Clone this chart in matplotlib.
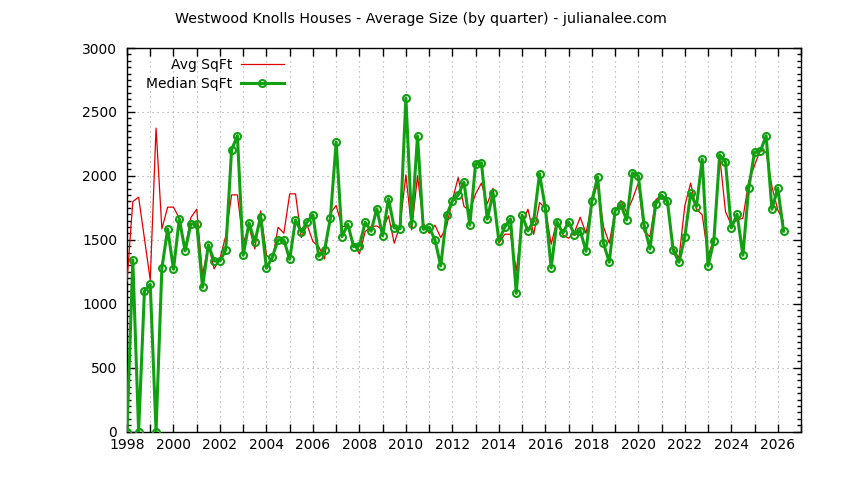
import numpy as np
import matplotlib
matplotlib.use("Agg")
import matplotlib.pyplot as plt
from matplotlib.ticker import MultipleLocator, FuncFormatter

start_year = 1998
avg_sqft = [
    1175, 1799, 1833, 1510,   # 1998
    1185, 2373, 1585, 1755,   # 1999
    1755, 1668, 1433, 1674,   # 2000
    1739, 1225, 1460, 1272,   # 2001
    1355, 1530, 1851, 1851,   # 2002
    1473, 1603, 1428, 1726,   # 2003
    1381, 1334, 1598, 1551,   # 2004
    1859, 1859, 1517, 1616,   # 2005
    1486, 1446, 1350, 1708,   # 2006
    1768, 1603, 1608, 1467,   # 2007
    1389, 1564, 1603, 1608,   # 2008
    1577, 1687, 1473, 1616,   # 2009
    2008, 1577, 2000, 1629,   # 2010
    1551, 1614, 1517, 1603,   # 2011
    1810, 1987, 1760, 1728,   # 2012
    1859, 1943, 1781, 1903,   # 2013
    1473, 1543, 1543, 1258,   # 2014
    1629, 1739, 1543, 1791,   # 2015
    1747, 1465, 1648, 1538,   # 2016
    1512, 1556, 1676, 1551,   # 2017
    1786, 1943, 1603, 1473,   # 2018
    1721, 1807, 1713, 1817,   # 2019
    1943, 1564, 1525, 1812,   # 2020
    1851, 1786, 1440, 1355,   # 2021
    1765, 1943, 1739, 1695,   # 2022
    1368, 1512, 2157, 1721,   # 2023
    1616, 1655, 1668, 1956,   # 2024
    2081, 2204, 2183, 1916,   # 2025
    1734, 1642,               # 2026
]
median_sqft = [
    0, 1342, 0, 1099,         # 1998
    1151, 0, 1277, 1585,      # 1999
    1269, 1663, 1413, 1624,   # 2000
    1624, 1128, 1460, 1334,   # 2001
    1334, 1420, 2204, 2313,   # 2002
    1379, 1632, 1483, 1679,   # 2003
    1277, 1363, 1499, 1499,   # 2004
    1347, 1655, 1561, 1640,   # 2005
    1695, 1371, 1420, 1668,   # 2006
    2264, 1525, 1621, 1446,   # 2007
    1454, 1637, 1567, 1742,   # 2008
    1530, 1820, 1593, 1585,   # 2009
    2608, 1621, 2311, 1582,   # 2010
    1598, 1499, 1295, 1692,   # 2011
    1804, 1851, 1950, 1614,   # 2012
    2094, 2102, 1661, 1864,   # 2013
    1491, 1598, 1663, 1081,   # 2014
    1692, 1569, 1648, 2016,   # 2015
    1747, 1279, 1642, 1551,   # 2016
    1640, 1540, 1572, 1410,   # 2017
    1802, 1992, 1473, 1324,   # 2018
    1726, 1773, 1655, 2023,   # 2019
    2000, 1614, 1428, 1781,   # 2020
    1849, 1804, 1418, 1324,   # 2021
    1520, 1864, 1760, 2131,   # 2022
    1295, 1491, 2164, 2110,   # 2023
    1593, 1700, 1379, 1903,   # 2024
    2185, 2193, 2313, 1739,   # 2025
    1903, 1567,               # 2026
]
title = "Westwood Knolls Houses - Average Size (by quarter) - julianalee.com"
series_labels = ["Avg SqFt", "Median SqFt"]

x = start_year + np.arange(len(avg_sqft)) / 4.0

plt.rcParams['font.family'] = ['DejaVu Sans']
fig = plt.figure(figsize=(8.44, 4.8), dpi=100)
ax = fig.add_axes([127/844, 1 - 431.5/480, (801-127)/844, (431.5-48)/480])

ax.plot(x, avg_sqft, color='#e00000', lw=0.9, label=series_labels[0], zorder=3)
ax.plot(x, median_sqft, color='#10a010', lw=2.2, marker='o', ms=5,
        mfc='none', mec='#10a010', mew=1.5, label=series_labels[1], zorder=4)

ax.set_xlim(1998, 2027)
ax.set_ylim(0, 3000)
ax.xaxis.set_major_locator(MultipleLocator(1))
ax.xaxis.set_major_formatter(FuncFormatter(lambda v, p: f"{int(round(v))}" if int(round(v)) % 2 == 0 and int(round(v)) < 2027 else ""))
ax.yaxis.set_major_locator(MultipleLocator(500))
ax.yaxis.set_minor_locator(MultipleLocator(50))

ax.tick_params(axis='both', which='major', direction='in', length=6, width=1,
               top=True, right=True, labelsize=10, colors='black')
ax.tick_params(axis='x', which='major', pad=5)
ax.tick_params(axis='y', which='major', pad=7)
ax.tick_params(axis='y', which='minor', direction='in', length=3, width=1,
               left=True, right=True)
for s in ax.spines.values():
    s.set_linewidth(1)
    s.set_color('black')

ax.grid(True, which='major', color='#a0a0a0', linestyle=(0, (1, 3.5)), linewidth=0.8)
ax.set_axisbelow(True)

leg = fig.legend(loc='upper right', bbox_to_anchor=(284/844, 1 - 58/480),
                 frameon=False, markerfirst=False, handlelength=3.1,
                 handletextpad=0.6, labelspacing=0.35, borderpad=0.0,
                 borderaxespad=0, fontsize=10)

fig.text(421/844, 1 - 19/480, title, ha='center', va='center', fontsize=10.25)

fig.savefig("out.png", dpi=100)
